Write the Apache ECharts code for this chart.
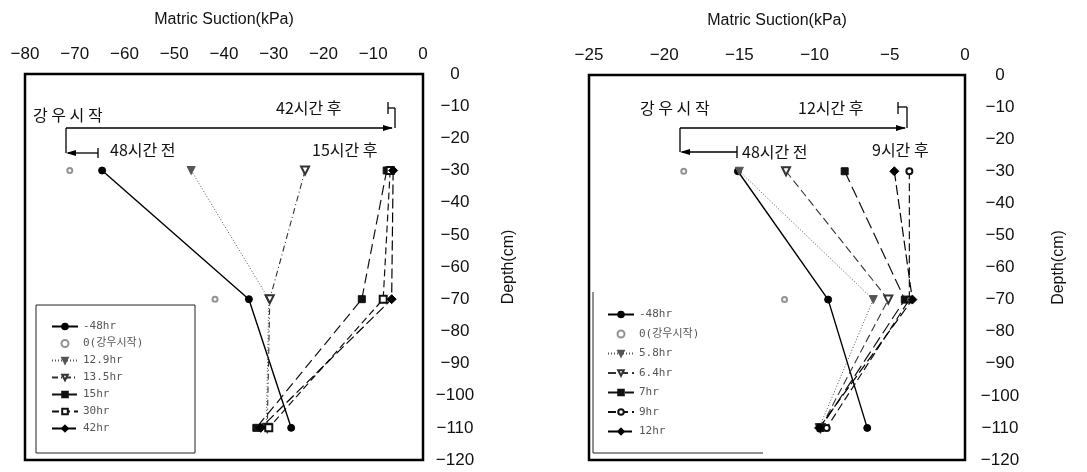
<!DOCTYPE html>
<html>
<head>
<meta charset="utf-8">
<script src="https://cdn.jsdelivr.net/npm/echarts@6/dist/echarts.min.js"></script>
<style>
  html, body { margin: 0; padding: 0; background: #fff; }
  #wrap { position: relative; width: 1087px; height: 472px; }
  #left { position: absolute; left: 0; top: 0; width: 540px; height: 472px; }
  #right { position: absolute; left: 540px; top: 0; width: 547px; height: 472px; }
</style>
</head>
<body>
<div id="wrap">
  <div id="left"></div>
  <div id="right"></div>
</div>
<script>
// Profondeurs communes aux deux graphiques (cm)
const depths = [-30, -70, -110];

// Graphique gauche : succion matricielle (kPa) à -30, -70, -110 cm
const leftNames = ['-48hr', '0(강우시작)', '12.9hr', '13.5hr', '15hr', '30hr', '42hr'];
const leftM48 = [-64.5, -35.0, -26.5];
const leftStart = [-71.0, -41.8, -31.0];
const left12_9 = [-46.6, -31.0, -31.5];
const left13_5 = [-23.7, -30.8, -31.3];
const left15 = [-7.3, -12.3, -33.5];
const left30 = [-6.6, -8.0, -31.0];
const left42 = [-6.0, -6.3, -32.6];
const leftValues = [leftM48, leftStart, left12_9, left13_5, left15, left30, left42];
const leftTicks = [-80, 0, 10];

// Graphique droit
const rightNames = ['-48hr', '0(강우시작)', '5.8hr', '6.4hr', '7hr', '9hr', '12hr'];
const rightM48 = [-15.1, -9.1, -6.5];
const rightStart = [-18.7, -12.0, -9.2];
const right5_8 = [-15.0, -6.1, -9.7];
const right6_4 = [-11.9, -5.1, -9.6];
const right7 = [-8.0, -4.0, -9.6];
const right9 = [-3.7, -3.7, -9.2];
const right12 = [-4.7, -3.5, -9.7];
const rightValues = [rightM48, rightStart, right5_8, right6_4, right7, right9, right12];
const rightTicks = [-25, 0, 5];

// Styles des séries (même ordre dans les deux graphiques)
const leftStyles = [
    { symbol: 'circle', size: 7, dash: 'solid', color: '#000', width: 1.4 },
    { scatter: true, symbol: 'emptyCircle', size: 5, color: '#777' },
    { symbol: 'triangle', rotate: 180, size: 8, dash: [1, 2], color: '#555', width: 1 },
    { symbol: 'emptyTriangle', rotate: 180, size: 8, dash: [6, 3, 1, 3], color: '#333', width: 1.1 },
    { symbol: 'rect', size: 7, dash: [10, 5], color: '#111', width: 1.2 },
    { symbol: 'emptyRect', size: 7, dash: [7, 4], color: '#111', width: 1.2 },
    { symbol: 'diamond', size: 9, dash: [10, 4], color: '#000', width: 1.2 }
];
const rightStyles = [
    { symbol: 'circle', size: 7, dash: 'solid', color: '#000', width: 1.4 },
    { scatter: true, symbol: 'emptyCircle', size: 5, color: '#777' },
    { symbol: 'triangle', rotate: 180, size: 8, dash: [1, 2], color: '#555', width: 1 },
    { symbol: 'emptyTriangle', rotate: 180, size: 8, dash: [8, 4], color: '#333', width: 1.1 },
    { symbol: 'rect', size: 7, dash: [12, 5], color: '#111', width: 1.2 },
    { symbol: 'emptyCircle', size: 6, dash: [8, 4], color: '#111', width: 1.2 },
    { symbol: 'diamond', size: 9, dash: [10, 4], color: '#000', width: 1.2 }
];

const axisFont = 'Liberation Sans, Arial, sans-serif';
const korFont = '"Noto Sans CJK KR", sans-serif';

function minus(v) {
    return v < 0 ? '\u2212' + Math.abs(v) : String(v);
}

function buildSeries(names, values, styles) {
    return names.map((name, i) => {
        const s = styles[i];
        const base = {
            name: name,
            type: s.scatter ? 'scatter' : 'line',
            data: values[i].map((v, k) => [v, depths[k]]),
            symbol: s.symbol,
            symbolSize: s.size,
            symbolRotate: s.rotate || 0,
            itemStyle: { color: s.color, borderColor: s.color, borderWidth: 1 },
            z: s.scatter ? 1 : 3
        };
        if (!s.scatter) {
            base.lineStyle = { color: s.color, width: s.width, type: s.dash };
            base.showAllSymbol = true;
        }
        return base;
    });
}

function seg(x1, y1, x2, y2) {
    return { type: 'line', shape: { x1, y1, x2, y2 }, style: { stroke: '#000', lineWidth: 1.3 } };
}

function head(x, y, dir) {
    const d = dir === 'right' ? -1 : 1;
    return {
        type: 'polygon',
        shape: { points: [[x, y], [x + d * 10, y - 3], [x + d * 10, y + 3]] },
        style: { fill: '#000' }
    };
}

function label(text, x, y) {
    return {
        type: 'text', x: x, y: y,
        style: { text: text, font: '16px ' + korFont, fill: '#111', verticalAlign: 'middle' }
    };
}

function settings(opts) {
    return {
        animation: false,
        backgroundColor: '#fff',
        grid: Object.assign({ show: true, borderColor: '#000', borderWidth: 2.5, backgroundColor: 'transparent' }, opts.grid),
        xAxis: {
            type: 'value',
            position: 'top',
            min: opts.ticks[0], max: opts.ticks[1], interval: opts.ticks[2],
            name: 'Matric Suction(kPa)',
            nameLocation: 'middle',
            nameGap: 46,
            nameTextStyle: { fontFamily: axisFont, fontSize: 16, color: '#111' },
            axisLine: { show: false },
            axisTick: { show: false },
            splitLine: { show: false },
            axisLabel: { formatter: minus, fontFamily: axisFont, fontSize: 17, color: '#111', margin: 11 }
        },
        yAxis: {
            type: 'value',
            position: 'right',
            min: -120, max: 0, interval: 10,
            name: 'Depth(cm)',
            nameLocation: 'middle',
            nameGap: opts.nameGap,
            nameRotate: 90,
            nameTextStyle: { fontFamily: axisFont, fontSize: 16, color: '#111' },
            axisLine: { show: false },
            axisTick: { show: false },
            splitLine: { show: false },
            axisLabel: { formatter: minus, fontFamily: axisFont, fontSize: 17, color: '#111', margin: opts.labelMargin, align: 'center' }
        },
        legend: Object.assign({
            orient: 'vertical',
            itemWidth: 26,
            itemHeight: 7,
            padding: 0,
            textStyle: { fontFamily: '"DejaVu Sans Mono", ' + korFont, fontSize: 11, color: '#555' },
            data: opts.names
        }, opts.legend),
        graphic: opts.graphic,
        series: buildSeries(opts.names, opts.values, opts.styles)
    };
}

function create(id, opts) {
    const dom = document.getElementById(id);
    let chart = echarts.getInstanceByDom(dom);
    if (chart) chart.dispose();
    chart = echarts.init(dom);
    chart.setOption(settings(opts));
    return chart;
}

create('left', {
    names: leftNames, values: leftValues, styles: leftStyles, ticks: leftTicks,
    grid: { left: 25, top: 74, width: 398, bottom: 12 },
    nameGap: 78, labelMargin: 32,
    legend: { left: 51, top: 321, itemGap: 6 },
    graphic: [
        { type: 'rect', shape: { x: 36, y: 305, width: 159, height: 148 }, style: { fill: 'none', stroke: '#222', lineWidth: 1 } },
        label('강 우 시 작', 33, 115),
        label('42시간 후', 276, 108),
        seg(388, 102, 388, 114), seg(388, 108, 395, 108), seg(395, 108, 395, 128),
        seg(66, 128, 392, 128), head(393, 128, 'right'),
        seg(66, 128, 66, 153), seg(68, 153, 98, 153), head(66, 153, 'left'), seg(98, 148, 98, 158),
        label('48시간 전', 110, 150),
        label('15시간 후', 312, 150)
    ]
});

create('right', {
    names: rightNames, values: rightValues, styles: rightStyles, ticks: rightTicks,
    grid: { left: 49, top: 75, width: 376, bottom: 12 },
    nameGap: 86, labelMargin: 35,
    legend: { left: 67, top: 309, itemGap: 8.5 },
    graphic: [
        { type: 'polyline', shape: { points: [[53, 292], [53, 453], [223, 453]] }, style: { fill: 'none', stroke: '#222', lineWidth: 1 } },
        label('강 우 시 작', 100, 108),
        label('12시간 후', 258, 108),
        seg(358, 102, 358, 114), seg(358, 107, 367, 107), seg(367, 107, 367, 128),
        seg(140, 128, 365, 128), head(366, 128, 'right'),
        seg(140, 128, 140, 152), seg(142, 152, 197, 152), head(140, 152, 'left'), seg(197, 146, 197, 158),
        label('48시간 전', 202, 152),
        label('9시간 후', 332, 150)
    ]
});
</script>
</body>
</html>
